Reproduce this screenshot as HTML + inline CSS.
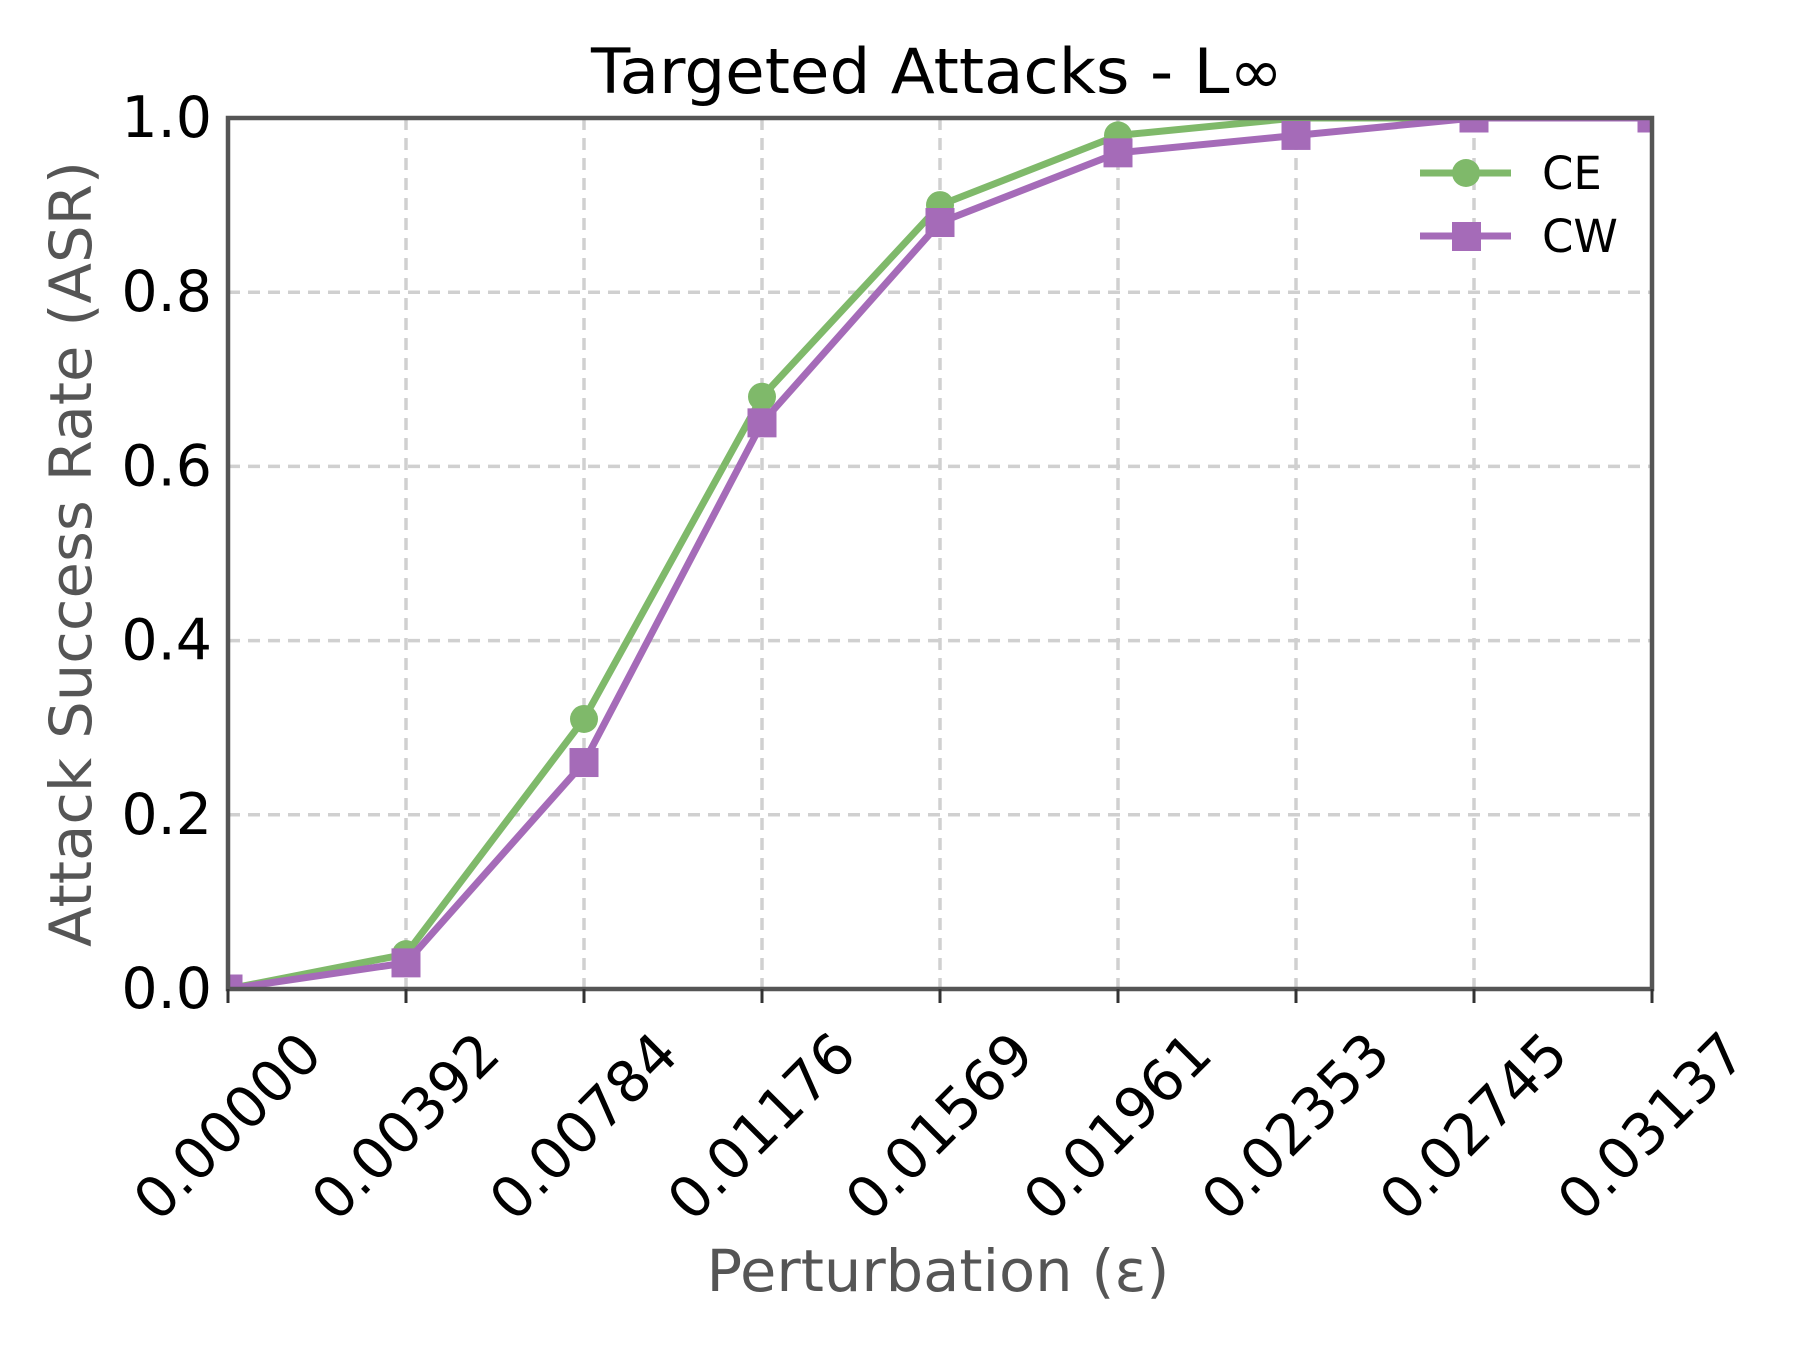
<!DOCTYPE html>
<html><head><meta charset="utf-8"><style>html,body{margin:0;padding:0;background:#fff}svg{display:block}</style></head>
<body>
<svg id="chart" width="1800" height="1350" viewBox="0 0 1800 1350" xmlns="http://www.w3.org/2000/svg" font-family="'DejaVu Sans','Liberation Sans',sans-serif">
<defs><clipPath id="plotclip"><rect x="228" y="118" width="1424" height="871"/></clipPath></defs>
<rect width="1800" height="1350" fill="#fff"/>
<text x="937" y="93" font-size="62" text-anchor="middle" textLength="692" lengthAdjust="spacingAndGlyphs">Targeted Attacks - L∞</text>
<g id="grid"></g>
<g id="series" clip-path="url(#plotclip)"></g>
<rect x="228" y="118" width="1424" height="871" fill="none" stroke="#555" stroke-width="4.5"/>
<g id="axes"></g>
<text x="0" y="0" font-size="58" fill="#555" text-anchor="middle" textLength="786" lengthAdjust="spacingAndGlyphs" transform="translate(91 554) rotate(-90)">Attack Success Rate (ASR)</text>
<text x="938" y="1291" font-size="58" fill="#555" text-anchor="middle" textLength="463" lengthAdjust="spacingAndGlyphs">Perturbation (ε)</text>
<g>
  <line x1="1420" y1="173" x2="1511" y2="173" stroke="#7fb96a" stroke-width="7"/>
  <circle cx="1466" cy="173" r="14" fill="#7fb96a"/>
  <text x="1542" y="189" font-size="45">CE</text>
  <line x1="1420" y1="236" x2="1511" y2="236" stroke="#a56bb8" stroke-width="7"/>
  <rect x="1452" y="222" width="29" height="29" fill="#a56bb8"/>
  <text x="1542" y="252" font-size="45">CW</text>
</g>
</svg>
<script>
const categories = ["0.00000","0.00392","0.00784","0.01176","0.01569","0.01961","0.02353","0.02745","0.03137"];
const ceValues = [0.0, 0.04, 0.31, 0.68, 0.90, 0.98, 1.0, 1.0, 1.0];
const cwValues = [0.0, 0.03, 0.26, 0.65, 0.88, 0.96, 0.98, 1.0, 1.0];
const yTicks = [0, 0.2, 0.4, 0.6, 0.8, 1.0];
const yTickLabels = ["0.0","0.2","0.4","0.6","0.8","1.0"];

const NS = "http://www.w3.org/2000/svg";
const L = 228, R = 1652, T = 118, B = 989;
function xPos(i){ return L + (R - L) * i / (categories.length - 1); }
function yPos(v){ return B - (B - T) * v; }
function mk(tag, attrs, parent){ const e = document.createElementNS(NS, tag); for (const k in attrs) e.setAttribute(k, attrs[k]); parent.appendChild(e); return e; }

const grid = document.getElementById('grid');
const axes = document.getElementById('axes');
const series = document.getElementById('series');

categories.forEach((c, i) => {
  const x = xPos(i);
  const g = mk('line', {x1:x, y1:T, x2:x, y2:B, stroke:'#d0d0d0', 'stroke-width':3.5, 'stroke-dasharray':'12 8'}, grid);
  
  
  const t = mk('line', {x1:x, y1:B, x2:x, y2:B+14, stroke:'#333', 'stroke-width':3}, axes);
  
  
  const yc = 1127;
  const lbl = mk('text', {x:x, y:yc, 'font-size':57, 'text-anchor':'middle', 'dominant-baseline':'central', transform:`rotate(-45 ${x} ${yc})`}, axes);
  lbl.textContent = c;
  
  
});

yTicks.forEach((v, i) => {
  const y = yPos(v);
  if (v > 0 && v < 1) {
    const g = mk('line', {x1:L, y1:y, x2:R, y2:y, stroke:'#d0d0d0', 'stroke-width':3.5, 'stroke-dasharray':'12 8'}, grid);
    
    
  }
  const lbl = mk('text', {x:212, y:y, 'font-size':57, 'text-anchor':'end', 'dominant-baseline':'central'}, axes);
  lbl.textContent = yTickLabels[i];
  
  
});

function drawSeries(vals, color, name, square){
  const pts = vals.map((v, i) => xPos(i) + ',' + yPos(v)).join(' ');
  const pl = mk('polyline', {points:pts, fill:'none', stroke:color, 'stroke-width':7, 'stroke-linejoin':'round'}, series);
  
  
  vals.forEach((v, i) => {
    let m;
    if (square) m = mk('rect', {x:xPos(i)-14.5, y:yPos(v)-14.5, width:29, height:29, fill:color}, series);
    else m = mk('circle', {cx:xPos(i), cy:yPos(v), r:14, fill:color}, series);
    
    
  });
}
drawSeries(ceValues, '#7fb96a', 'ce', false);
drawSeries(cwValues, '#a56bb8', 'cw', true);
</script>
</body></html>
